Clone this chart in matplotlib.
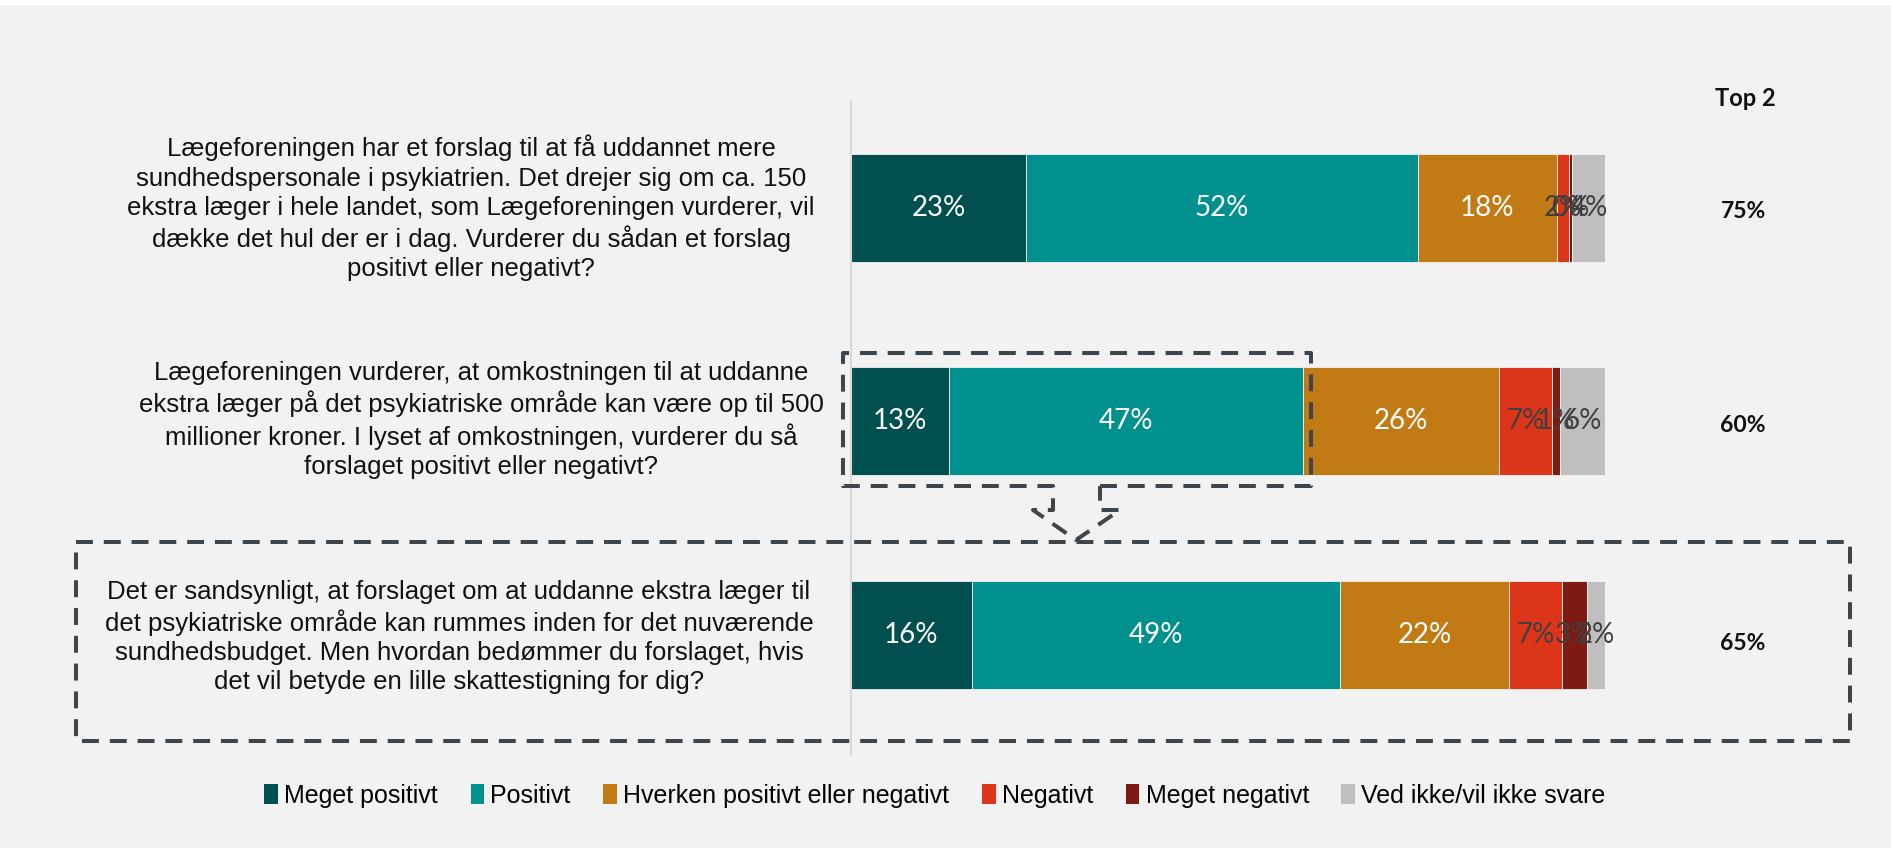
import matplotlib.pyplot as plt
from matplotlib.patches import Patch, Rectangle

# data
questions = [
    "Lægeforeningen har et forslag til at få uddannet mere\n"
    "sundhedspersonale i psykiatrien. Det drejer sig om ca. 150\n"
    "ekstra læger i hele landet, som Lægeforeningen vurderer, vil\n"
    "dække det hul der er i dag. Vurderer du sådan et forslag\n"
    "positivt eller negativt?",
    "Lægeforeningen vurderer, at omkostningen til at uddanne\n"
    "ekstra læger på det psykiatriske område kan være op til 500\n"
    "millioner kroner. I lyset af omkostningen, vurderer du så\n"
    "forslaget positivt eller negativt?",
    "Det er sandsynligt, at forslaget om at uddanne ekstra læger til\n"
    "det psykiatriske område kan rummes inden for det nuværende\n"
    "sundhedsbudget. Men hvordan bedømmer du forslaget, hvis\n"
    "det vil betyde en lille skattestigning for dig?",
]
categories = ["Meget positivt", "Positivt", "Hverken positivt eller negativt",
              "Negativt", "Meget negativt", "Ved ikke/vil ikke svare"]
meget_positivt = [23.2, 13, 16]
positivt = [52, 47, 48.9]
hverken = [18.4, 26, 22.4]
negativt = [1.6, 7, 7]
meget_negativt = [0.4, 1, 3.3]
ved_ikke = [4.4, 6, 2.4]
top2 = [75, 60, 65]

series = [meget_positivt, positivt, hverken, negativt, meget_negativt, ved_ikke]
colors = ["#024F4F", "#00918E", "#C27A15", "#DD3519", "#7E1A12", "#BFBFBF"]
label_colors = ["white", "white", "white", "#404040", "#404040", "#404040"]
bg = "#F2F2F2"

fig = plt.figure(figsize=(18.91, 8.48), dpi=100, facecolor=bg)
W, H = 1891, 848

ax = fig.add_axes([851 / W, 1 - 754 / H, 754 / W, 652 / H])
ax.set_facecolor(bg)
ypos = list(range(len(questions)))
left = [0] * len(questions)
for vals, col, lcol in zip(series, colors, label_colors):
    bars = ax.barh(ypos, vals, left=left, height=0.506, color=col,
                   edgecolor=bg, linewidth=0.6, zorder=2)
    for b, v in zip(bars, vals):
        ax.text(b.get_x() + b.get_width() / 2, b.get_y() + b.get_height() / 2,
                f"{round(v):.0f}%", ha="center", va="center", color=lcol,
                fontsize=20, family="Lato", fontweight="normal", zorder=10)
    left = [l + v for l, v in zip(left, vals)]

ax.set_xlim(0, 100)
ax.set_ylim(2.558, -0.496)
ax.set_xticks([])
ax.set_yticks([])
for s in ["top", "right", "bottom"]:
    ax.spines[s].set_visible(False)
ax.spines["left"].set_color("#D9D9D9")
ax.spines["left"].set_linewidth(1.5)

# overlay in figure pixels for text and dashed highlights
ov = fig.add_axes([0, 0, 1, 1], zorder=5)
ov.set_xlim(0, W)
ov.set_ylim(H, 0)
ov.axis("off")
ov.patch.set_alpha(0)

ov.add_patch(Rectangle((0, 0), W, 5, color="white", lw=0))

q_x = [471, 481, 459]
q_y = [208, 420, 637]
for q, x, y in zip(questions, q_x, q_y):
    ov.text(x, y, q, ha="center", va="center", fontsize=18.5,
            family="Liberation Sans", color="#111111", linespacing=1.27)

ov.text(1745, 99, "Top 2", ha="center", va="center", fontsize=17,
        family="Lato", fontweight="bold", color="#111111")
for v, y in zip(top2, [211, 426, 643]):
    ov.text(1743, y, f"{v}%", ha="center", va="center", fontsize=16.5,
            family="Lato", fontweight="bold", color="#111111")

dash = dict(color="#3E464C", lw=2.9, linestyle=(0, (4.2, 2.7)),
            solid_capstyle="butt", dash_capstyle="butt")
bx = [1100, 1311, 1311, 843, 843, 1053, 1053, 1033, 1076, 1120, 1100, 1100]
by = [486, 486, 353, 353, 486, 486, 510, 510, 540, 510, 510, 486]
ov.plot(bx, by, **dash)
ov.plot([76, 1850, 1850, 76, 76], [542, 542, 741, 741, 542], **dash)

handles = [Patch(facecolor=c, edgecolor="none") for c in colors]
leg = fig.legend(handles, categories, loc="center", bbox_to_anchor=(935 / W, 1 - 796 / H),
                 ncol=6, frameon=False, handlelength=0.55,
                 handleheight=0.85, handletextpad=0.25, columnspacing=1.3,
                 prop={"family": "Liberation Sans", "size": 18})

fig.savefig("out.png", dpi=100, facecolor=bg)
